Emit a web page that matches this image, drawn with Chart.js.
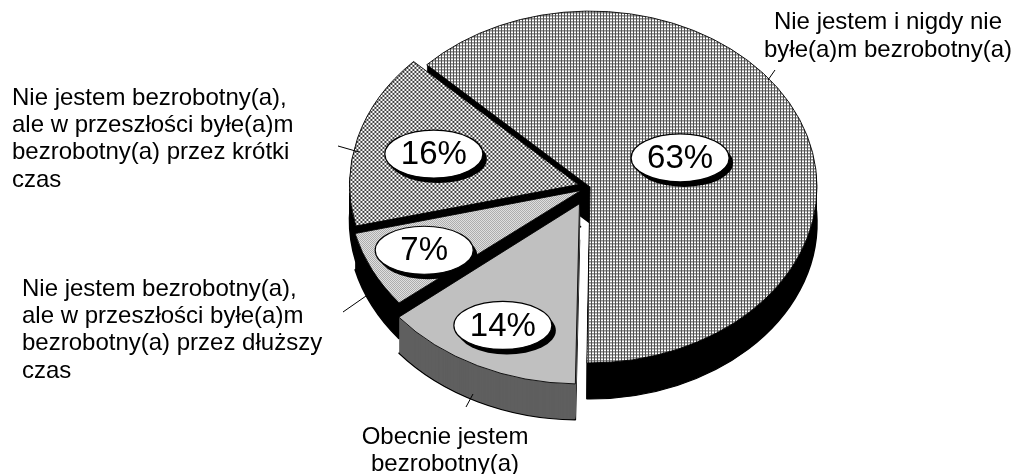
<!DOCTYPE html>
<html lang="pl">
<head>
<meta charset="utf-8">
<title>Bezrobocie</title>
<script src="https://cdn.jsdelivr.net/npm/chart.js@4.4.1/dist/chart.umd.min.js"></script>
<style>
    html, body { margin: 0; padding: 0; background: #fff; }
    canvas { display: block; }
</style>
</head>
<body>
<canvas id="wykres" width="1022" height="474"></canvas>
<script>
// Dane (kolejność zgodnie z ruchem wskazówek zegara)
const odpowiedzi = [
    'Nie jestem i nigdy nie byłe(a)m bezrobotny(a)',
    'Obecnie jestem bezrobotny(a)',
    'Nie jestem bezrobotny(a), ale w przeszłości byłe(a)m bezrobotny(a) przez dłuższy czas',
    'Nie jestem bezrobotny(a), ale w przeszłości byłe(a)m bezrobotny(a) przez krótki czas'
];
const procenty = [63, 14, 7, 16];
const etykiety = [
    ['Nie jestem i nigdy nie', 'byłe(a)m bezrobotny(a)'],
    ['Obecnie jestem', 'bezrobotny(a)'],
    ['Nie jestem bezrobotny(a),', 'ale w przeszłości byłe(a)m', 'bezrobotny(a) przez dłuższy', 'czas'],
    ['Nie jestem bezrobotny(a),', 'ale w przeszłości byłe(a)m', 'bezrobotny(a) przez krótki', 'czas']
];

const SKALA_Y = 0.775;   // spłaszczenie elipsy
const SRODEK_Y = 187;
const GLEBOKOSC = 36;
const FONT = '"Liberation Sans", Arial, sans-serif';

// Wzory wypełnienia w stylu Excela
function wzor(rozmiar, rysuj) {
    const c = document.createElement('canvas');
    c.width = c.height = rozmiar;
    const g = c.getContext('2d');
    g.fillStyle = '#fff';
    g.fillRect(0, 0, rozmiar, rozmiar);
    rysuj(g);
    const p = g.createPattern(c, 'repeat');
    p.setTransform(new DOMMatrix().scale(1, 1 / SKALA_Y));
    return p;
}

const siatka = wzor(3, g => {
    g.fillStyle = '#505050';
    g.fillRect(0, 0, 3, 1);
    g.fillRect(0, 0, 1, 3);
});
const szachownica = wzor(4, g => {
    g.fillStyle = '#404040';
    g.fillRect(0, 0, 2, 2);
    g.fillRect(2, 2, 2, 2);
});
const drobna = wzor(2, g => {
    g.fillStyle = '#8e8e8e';
    g.fillRect(0, 0, 1, 1);
    g.fillRect(1, 1, 1, 1);
});

const pie3d = {
    id: 'pie3d',
    beforeDatasetsDraw(chart, args, opts) {
        const ctx = chart.ctx;
        const arcs = chart.getDatasetMeta(0).data;
        const cy = arcs[0].y;
        ctx.save();
        ctx.translate(0, opts.srodekY);
        ctx.scale(1, opts.skala);
        ctx.translate(0, -cy);

        // boki - kolejne warstwy przesunięte w dół
        for (let d = opts.glebokosc; d >= 1; d--) {
            ctx.save();
            ctx.translate(0, d / opts.skala);
            arcs.forEach((arc, i) => {
                const orig = arc.options;
                arc.options = Object.assign({}, orig, {
                    backgroundColor: opts.boki[i],
                    borderColor: '#000',
                    borderWidth: d === opts.glebokosc ? 1.5 : 0
                });
                arc.draw(ctx);
                arc.options = orig;
            });
            ctx.restore();
        }
    },
    afterDatasetsDraw(chart) {
        chart.ctx.restore();
    },
    afterDraw(chart, args, opts) {
        const ctx = chart.ctx;
        const arcs = chart.getDatasetMeta(0).data;

        // etykiety procentowe w elipsach
        arcs.forEach((arc, i) => {
            const a = (arc.startAngle + arc.endAngle) / 2;
            const przes = (arc.options.offset || 0) / 4;
            const r = przes + arc.outerRadius * opts.promienEtykiet[i];
            const x = arc.x + Math.cos(a) * r;
            const y = opts.srodekY + Math.sin(a) * r * opts.skala;

            ctx.beginPath();
            ctx.ellipse(x + 4, y + 5, 49, 24, 0, 0, Math.PI * 2);
            ctx.fillStyle = '#000';
            ctx.fill();
            ctx.beginPath();
            ctx.ellipse(x, y, 49, 24, 0, 0, Math.PI * 2);
            ctx.fillStyle = '#fff';
            ctx.fill();
            ctx.lineWidth = 1.2;
            ctx.strokeStyle = '#000';
            ctx.stroke();

            ctx.fillStyle = '#000';
            ctx.font = '33px ' + FONT;
            ctx.textAlign = 'center';
            ctx.textBaseline = 'middle';
            ctx.fillText(procenty[i] + '%', x, y + 1);
        });

        // opisy kategorii z liniami odniesienia
        ctx.font = '24px ' + FONT;
        ctx.textBaseline = 'middle';
        opts.opisy.forEach((o, i) => {
            ctx.textAlign = o.align;
            ctx.fillStyle = '#000';
            etykiety[i].forEach((linia, j) => ctx.fillText(linia, o.x, o.y + j * o.odstep));
            ctx.beginPath();
            ctx.moveTo(o.linia[0], o.linia[1]);
            ctx.lineTo(o.linia[2], o.linia[3]);
            ctx.lineWidth = 1;
            ctx.strokeStyle = '#000';
            ctx.stroke();
        });
    }
};

new Chart(document.getElementById('wykres'), {
    type: 'pie',
    data: {
        labels: odpowiedzi,
        datasets: [{
            data: procenty,
            backgroundColor: [siatka, '#c0c0c0', drobna, szachownica],
            borderColor: '#000',
            borderWidth: 1,
            offset: [0, 96, 40, 48],
            clip: false
        }]
    },
    options: {
        responsive: false,
        animation: false,
        events: [],
        radius: 227,
        rotation: -46,
        layout: { padding: { left: 158 } },
        plugins: {
            legend: { display: false },
            tooltip: { enabled: false },
            pie3d: {
                skala: SKALA_Y,
                srodekY: SRODEK_Y,
                glebokosc: GLEBOKOSC,
                boki: ['#000', '#5f5f5f', '#000', '#000'],
                promienEtykiet: [0.43, 0.77, 0.77, 0.66],
                opisy: [
                    { x: 888, y: 22, odstep: 28, align: 'center', linia: [768, 80, 775, 70] },
                    { x: 445, y: 437, odstep: 27, align: 'center', linia: [466, 407, 473, 394] },
                    { x: 22, y: 289, odstep: 27.3, align: 'left', linia: [343, 312, 366, 296] },
                    { x: 12, y: 98, odstep: 27.3, align: 'left', linia: [338, 146, 359, 152] }
                ]
            }
        }
    },
    plugins: [pie3d]
});
</script>
</body>
</html>
